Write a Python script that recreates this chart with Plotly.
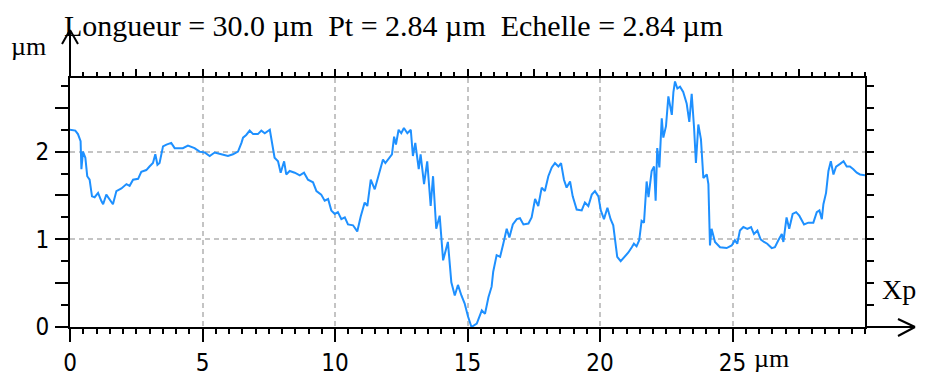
import plotly.graph_objects as go

# ---- data (µm) ----
x_um = [0.00, 0.20, 0.30, 0.40, 0.43, 0.49, 0.58, 0.65, 0.74, 0.83, 0.93, 1.06, 1.18, 1.25, 1.37, 1.50,
        1.62, 1.75, 1.94, 2.13, 2.25, 2.38, 2.57, 2.69, 2.88, 3.00, 3.13, 3.22, 3.30, 3.38, 3.51, 3.64,
        3.82, 3.95, 4.14, 4.26, 4.45, 4.70, 4.89, 5.08, 5.27, 5.46, 5.71, 5.96, 6.15, 6.34, 6.47, 6.53,
        6.65, 6.78, 6.91, 7.09, 7.22, 7.35, 7.54, 7.62, 7.72, 7.85, 7.95, 8.08, 8.16, 8.29, 8.48, 8.67,
        8.83, 8.98, 9.17, 9.30, 9.48, 9.61, 9.74, 9.86, 9.99, 10.11, 10.24, 10.37, 10.49, 10.68, 10.84,
        10.97, 11.12, 11.22, 11.35, 11.50, 11.65, 11.81, 11.90, 12.03, 12.15, 12.23, 12.30, 12.40, 12.50,
        12.60, 12.73, 12.86, 12.94, 13.03, 13.16, 13.23, 13.36, 13.48, 13.61, 13.70, 13.82, 13.95, 14.08,
        14.26, 14.39, 14.52, 14.64, 14.77, 14.89, 15.02, 15.15, 15.35, 15.54, 15.66, 15.79, 15.91, 15.97,
        16.10, 16.23, 16.35, 16.48, 16.58, 16.71, 16.86, 16.98, 17.11, 17.30, 17.42, 17.55, 17.67, 17.80,
        17.92, 18.05, 18.18, 18.30, 18.43, 18.53, 18.64, 18.74, 18.87, 18.97, 19.12, 19.31, 19.43, 19.56,
        19.69, 19.81, 19.94, 20.03, 20.15, 20.28, 20.40, 20.50, 20.57, 20.65, 20.78, 20.94, 21.07, 21.20,
        21.28, 21.38, 21.48, 21.57, 21.66, 21.76, 21.83, 21.95, 22.04, 22.10, 22.16, 22.24, 22.33, 22.39,
        22.49, 22.58, 22.71, 22.77, 22.83, 22.92, 23.02, 23.14, 23.27, 23.37, 23.46, 23.55, 23.62, 23.71,
        23.81, 23.90, 24.03, 24.09, 24.15, 24.21, 24.34, 24.53, 24.78, 24.97, 25.09, 25.18, 25.28, 25.41,
        25.56, 25.70, 25.81, 25.94, 26.06, 26.19, 26.31, 26.48, 26.60, 26.73, 26.86, 26.92, 27.04, 27.14,
        27.27, 27.40, 27.52, 27.70, 27.86, 28.05, 28.18, 28.28, 28.37, 28.43, 28.53, 28.62, 28.71, 28.81,
        28.91, 29.06, 29.19, 29.31, 29.43, 29.56, 29.69, 29.81, 30.00]
z_um = [2.25, 2.24, 2.20, 2.12, 1.80, 2.00, 1.93, 1.72, 1.68, 1.49, 1.48, 1.53, 1.44, 1.40, 1.51, 1.46,
        1.40, 1.55, 1.58, 1.63, 1.61, 1.68, 1.69, 1.77, 1.79, 1.83, 1.87, 1.97, 1.85, 1.87, 2.06, 2.08,
        2.10, 2.04, 2.04, 2.04, 2.07, 2.04, 2.00, 1.99, 1.95, 1.99, 1.97, 1.95, 1.97, 2.00, 2.10, 2.16,
        2.19, 2.24, 2.20, 2.20, 2.24, 2.21, 2.25, 2.12, 1.93, 1.89, 1.76, 1.89, 1.74, 1.78, 1.76, 1.73,
        1.76, 1.68, 1.65, 1.55, 1.51, 1.44, 1.46, 1.33, 1.29, 1.31, 1.23, 1.25, 1.17, 1.16, 1.09,
        1.26, 1.42, 1.38, 1.68, 1.57, 1.74, 1.91, 1.87, 1.93, 1.97, 2.17, 2.08, 2.25, 2.21,
        2.27, 2.21, 2.25, 1.95, 2.10, 1.80, 1.97, 1.63, 1.89, 1.38, 1.72, 1.12, 1.27, 0.76,
        0.97, 0.51, 0.36, 0.48, 0.36, 0.27, 0.12, 0.00, 0.04, 0.19, 0.15, 0.34, 0.46, 0.63,
        0.82, 0.80, 0.95, 1.12, 1.02, 1.17, 1.23, 1.24, 1.17, 1.18, 1.25, 1.46, 1.38, 1.59,
        1.55, 1.72, 1.82, 1.87, 1.83, 1.87, 1.68, 1.59, 1.66, 1.49, 1.34, 1.33, 1.42, 1.38,
        1.51, 1.55, 1.49, 1.33, 1.23, 1.36, 1.23, 1.16, 0.99, 0.80, 0.75, 0.80, 0.85, 0.91,
        0.95, 0.92, 0.99, 1.21, 1.19, 1.66, 1.48, 1.78, 1.83, 1.44, 2.04, 1.82, 2.38, 2.16,
        2.29, 2.63, 2.42, 2.68, 2.80, 2.72, 2.74, 2.68, 2.55, 2.34, 2.66, 2.27, 1.87, 2.31,
        2.14, 1.70, 1.74, 1.63, 0.93, 1.12, 0.97, 0.91, 0.90, 0.93, 0.99, 0.95, 1.10, 1.14,
        1.12, 1.14, 1.06, 1.10, 1.00, 0.97, 0.95, 0.90, 0.91, 0.99, 1.06, 0.97, 1.25, 1.12,
        1.29, 1.31, 1.27, 1.17, 1.19, 1.19, 1.31, 1.33, 1.23, 1.40, 1.53, 1.78, 1.89, 1.74,
        1.83, 1.86, 1.89, 1.83, 1.83, 1.80, 1.76, 1.74, 1.73]

x_tick_vals = [0, 5, 10, 15, 20, 25]
x_tick_text = ["0", "5", "10", "15", "20", "25"]
y_tick_vals = [0, 0.5, 1, 1.5, 2, 2.5]
y_tick_text = ["0", "", "1", "", "2", ""]
y_grid_vals = [1, 2]
top_tick_vals = [2.5, 5, 7.5, 10, 12.5, 15, 17.5, 20, 22.5, 25, 27.5]
right_tick_vals = [0.25, 0.5, 0.75, 1, 1.25, 1.5, 1.75, 2, 2.25, 2.5, 2.75]

title_text = "Longueur = 30.0 µm\u00a0\u00a0Pt = 2.84 µm\u00a0\u00a0Echelle = 2.84 µm"

X_RANGE = [0, 30]
Y_RANGE = [0, 2.84]

SANS = "Liberation Sans Narrow, DejaVu Sans Condensed, Liberation Sans, Arial, sans-serif"
SERIF = "Liberation Serif, Times New Roman, DejaVu Serif, serif"
GRID = "#c4c4c4"

fig = go.Figure()
fig.add_trace(go.Scatter(x=x_um, y=z_um, mode="lines",
                         line=dict(color="rgb(30,144,255)", width=2),
                         showlegend=False, hoverinfo="skip"))
# empty traces so that the overlay axes are drawn
fig.add_trace(go.Scatter(x=[], y=[], xaxis="x2", yaxis="y", showlegend=False))
fig.add_trace(go.Scatter(x=[], y=[], xaxis="x", yaxis="y2", showlegend=False))
fig.add_trace(go.Scatter(x=[], y=[], xaxis="x", yaxis="y3", showlegend=False))

# the page body adds an 8px offset, so the figure is 8px smaller and margins compensate
fig.update_layout(
    width=917, height=369,
    margin=dict(l=62, r=60, t=70, b=50, pad=0),
    paper_bgcolor="white", plot_bgcolor="white",
    showlegend=False,
    xaxis=dict(range=X_RANGE, showline=True, linecolor="black", linewidth=2,
               ticks="outside", ticklen=13, tickwidth=2, tickcolor="black",
               tickmode="array", tickvals=x_tick_vals, ticktext=x_tick_text,
               tickfont=dict(family=SANS, size=24, color="black"),
               showgrid=True, gridcolor=GRID, gridwidth=1.5, griddash="5px,4px",
               minor=dict(dtick=0.5, ticks="outside", ticklen=5, tickwidth=1.5,
                          tickcolor="black", showgrid=False),
               zeroline=False, automargin=False),
    xaxis2=dict(range=X_RANGE, overlaying="x", side="top", anchor="y",
                showline=True, linecolor="black", linewidth=2,
                ticks="outside", ticklen=7, tickwidth=1.5, tickcolor="black",
                tickmode="array", tickvals=top_tick_vals, showticklabels=False,
                minor=dict(dtick=0.5, ticks="outside", ticklen=4, tickwidth=1.5,
                           tickcolor="black", showgrid=False),
                showgrid=False, zeroline=False, automargin=False),
    yaxis=dict(range=Y_RANGE, showline=True, linecolor="black", linewidth=2,
               ticks="outside", ticklen=13, tickwidth=2, tickcolor="black",
               tickmode="array", tickvals=y_tick_vals, ticktext=y_tick_text,
               tickfont=dict(family=SANS, size=24, color="black"),
               ticklabelstandoff=1,
               minor=dict(dtick=0.25, ticks="outside", ticklen=7, tickwidth=1.5,
                          tickcolor="black", showgrid=False),
               showgrid=False, zeroline=False, automargin=False),
    yaxis2=dict(range=Y_RANGE, overlaying="y", side="right", anchor="x",
                showline=True, linecolor="black", linewidth=2,
                ticks="outside", ticklen=7, tickwidth=1.5, tickcolor="black",
                tickmode="array", tickvals=right_tick_vals, showticklabels=False,
                showgrid=False, zeroline=False, automargin=False),
    yaxis3=dict(range=Y_RANGE, overlaying="y", side="left", anchor="x",
                tickmode="array", tickvals=y_grid_vals, showticklabels=False,
                ticks="", showline=False,
                showgrid=True, gridcolor=GRID, gridwidth=1.5, griddash="5px,4px",
                zeroline=False, automargin=False),
)

# axis arrows (pixel-sized shapes anchored on the axes)
ln = dict(color="black", width=2)
fig.add_shape(type="line", xref="paper", yref="paper", xsizemode="pixel", ysizemode="pixel",
              xanchor=0, yanchor=1, x0=0, x1=0, y0=0, y1=48, line=ln)
fig.add_shape(type="line", xref="paper", yref="paper", xsizemode="pixel", ysizemode="pixel",
              xanchor=0, yanchor=1, x0=0, x1=-8, y0=48, y1=34, line=ln)
fig.add_shape(type="line", xref="paper", yref="paper", xsizemode="pixel", ysizemode="pixel",
              xanchor=0, yanchor=1, x0=0, x1=8, y0=48, y1=34, line=ln)
fig.add_shape(type="line", xref="paper", yref="paper", xsizemode="pixel", ysizemode="pixel",
              xanchor=1, yanchor=0, x0=0, x1=50, y0=0, y1=0, line=ln)
fig.add_shape(type="line", xref="paper", yref="paper", xsizemode="pixel", ysizemode="pixel",
              xanchor=1, yanchor=0, x0=50, x1=33, y0=0, y1=8, line=ln)
fig.add_shape(type="line", xref="paper", yref="paper", xsizemode="pixel", ysizemode="pixel",
              xanchor=1, yanchor=0, x0=50, x1=33, y0=0, y1=-9, line=ln)

# texts (positions relative to the 795x249 plot area)
fig.add_annotation(text=title_text, xref="paper", yref="paper", x=0.4075, y=1.212,
                   xanchor="center", yanchor="middle", showarrow=False,
                   font=dict(family=SERIF, size=30, color="black"))
fig.add_annotation(text="µm", xref="paper", yref="paper", x=-0.0516, y=1.1245,
                   xanchor="center", yanchor="middle", showarrow=False,
                   font=dict(family=SERIF, size=26, color="black"))
fig.add_annotation(text="Xp", xref="paper", yref="paper", x=1.0428, y=0.1526,
                   xanchor="center", yanchor="middle", showarrow=False,
                   font=dict(family=SERIF, size=28, color="black"))
fig.add_annotation(text="µm", xref="paper", yref="paper", x=0.883, y=-0.1245,
                   xanchor="center", yanchor="middle", showarrow=False,
                   font=dict(family=SERIF, size=26, color="black"))

fig.write_html("out.html")
